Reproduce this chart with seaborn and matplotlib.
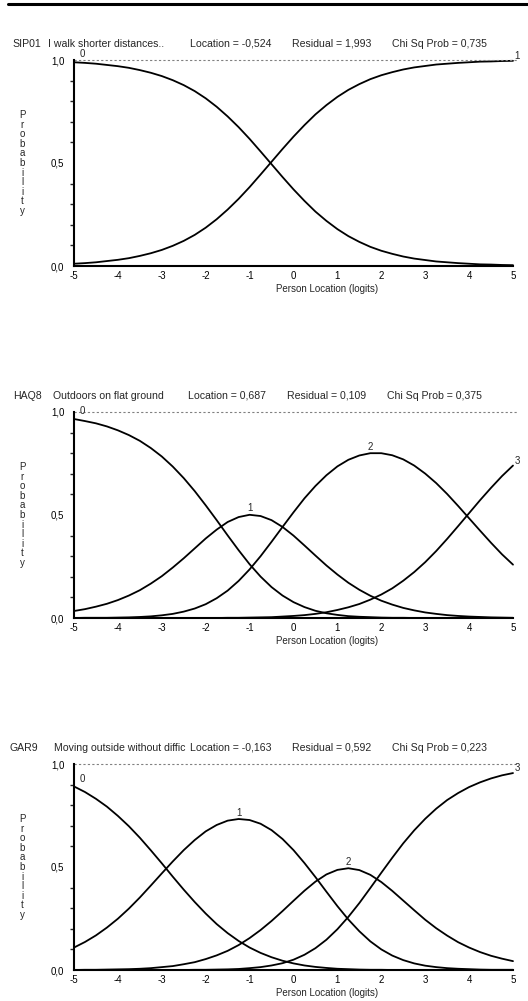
"""
Category probability curves (Rasch / partial credit) for three items,
stacked vertically in the style of a RUMM2030 item report.
"""

import pandas as pd
import matplotlib
matplotlib.use('Agg')
import matplotlib.pyplot as plt
from matplotlib.lines import Line2D
from matplotlib.ticker import MultipleLocator
import seaborn as sns


# Data (every quarter logit)
LOGITS = [-5.0, -4.75, -4.5, -4.25, -4.0, -3.75, -3.5, -3.25, -3.0, -2.75,
          -2.5, -2.25, -2.0, -1.75, -1.5, -1.25, -1.0, -0.75, -0.5, -0.25,
          0.0, 0.25, 0.5, 0.75, 1.0, 1.25, 1.5, 1.75, 2.0, 2.25,
          2.5, 2.75, 3.0, 3.25, 3.5, 3.75, 4.0, 4.25, 4.5, 4.75, 5.0]

SIP01_CAT0 = [.989, .986, .982, .976, .970, .962, .951, .938, .922, .902,
              .878, .849, .814, .773, .726, .674, .617, .556, .494, .432,
              .372, .316, .264, .219, .179, .145, .117, .093, .074, .059,
              .046, .036, .029, .022, .018, .014, .011, .008, .007, .005, .004]
SIP01_CAT1 = [.011, .014, .018, .024, .030, .038, .049, .062, .078, .098,
              .122, .151, .186, .227, .274, .326, .383, .444, .506, .568,
              .628, .684, .736, .781, .821, .855, .883, .907, .926, .941,
              .954, .964, .971, .978, .982, .986, .989, .992, .993, .995, .996]

HAQ8_CAT0 = [.966, .956, .945, .930, .911, .888, .860, .825, .784, .735,
             .679, .616, .547, .475, .401, .329, .261, .201, .150, .109,
             .077, .053, .035, .023, .015, .009, .006, .004, .002, .001,
             .001, .000, .000, .000, .000, .000, .000, .000, .000, .000, .000]
HAQ8_CAT1 = [.034, .043, .055, .069, .087, .109, .135, .167, .203, .245,
             .290, .338, .386, .429, .466, .490, .501, .495, .475, .442,
             .400, .352, .303, .255, .211, .171, .137, .108, .084, .065,
             .049, .037, .027, .020, .014, .010, .007, .005, .003, .002, .001]
HAQ8_CAT2 = [.000, .001, .001, .001, .002, .003, .005, .008, .013, .020,
             .031, .046, .067, .096, .133, .180, .236, .300, .370, .442,
             .513, .581, .641, .693, .736, .768, .789, .800, .800, .790,
             .770, .740, .701, .655, .602, .544, .484, .424, .365, .309, .259]
HAQ8_CAT3 = [.000, .000, .000, .000, .000, .000, .000, .000, .000, .000,
             .000, .000, .000, .000, .001, .001, .002, .003, .004, .007,
             .010, .014, .020, .028, .039, .052, .068, .089, .114, .144,
             .181, .223, .271, .325, .384, .446, .509, .572, .632, .689, .740]

GAR9_CAT0 = [.891, .864, .831, .793, .748, .698, .642, .581, .518, .453,
             .390, .330, .274, .223, .179, .141, .109, .083, .062, .045,
             .032, .022, .015, .010, .006, .004, .002, .001, .001, .000,
             .000, .000, .000, .000, .000, .000, .000, .000, .000, .000, .000]
GAR9_CAT1 = [.109, .136, .168, .206, .249, .298, .352, .410, .469, .527,
             .582, .631, .673, .704, .725, .733, .728, .710, .679, .636,
             .582, .519, .451, .380, .310, .245, .188, .139, .100, .070,
             .048, .032, .021, .014, .009, .006, .004, .002, .001, .001, .001]
GAR9_CAT2 = [.000, .001, .001, .002, .003, .004, .006, .009, .014, .019,
             .028, .038, .053, .071, .093, .121, .155, .194, .238, .286,
             .336, .385, .429, .464, .486, .494, .485, .462, .427, .384,
             .337, .290, .244, .203, .167, .135, .109, .087, .069, .055, .043]
GAR9_CAT3 = [.000, .000, .000, .000, .000, .000, .000, .000, .000, .000,
             .000, .001, .001, .002, .003, .005, .009, .014, .022, .033,
             .050, .074, .106, .147, .198, .258, .325, .398, .472, .545,
             .615, .678, .734, .783, .825, .859, .888, .911, .930, .945, .956]

ITEM_CODES = ['SIP01', 'HAQ8', 'GAR9']
ITEM_TEXTS = ['I walk shorter distances..', 'Outdoors on flat ground',
              'Moving outside without diffic']
LOCATIONS = ['-0,524', '0,687', '-0,163']
RESIDUALS = ['1,993', '0,109', '0,592']
CHI_PROBS = ['0,735', '0,375', '0,223']
CURVES = [
    [SIP01_CAT0, SIP01_CAT1],
    [HAQ8_CAT0, HAQ8_CAT1, HAQ8_CAT2, HAQ8_CAT3],
    [GAR9_CAT0, GAR9_CAT1, GAR9_CAT2, GAR9_CAT3],
]

X_TICKS = [-5, -4, -3, -2, -1, 0, 1, 2, 3, 4, 5]
Y_TICKS = [0.0, 0.5, 1.0]
Y_TICK_LABELS = ['0,0', '0,5', '1,0']

# Layout (pixels of a 528x1001 canvas)
W, H = 528, 1001
AX_LEFT, AX_RIGHT = 74, 513
AX_TOPS = [60, 412, 764]
AX_HEIGHT = 206
# header pieces: code, text, location, residual, chi-sq (x in px)
HEADER_X = [
    [12, 48, 190, 292, 392],
    [13, 53, 188, 287, 387],
    [10, 54, 190, 292, 392],
]
FONT = ['Liberation Sans', 'DejaVu Sans']


def _fx(px):
    return px / W


def _fy(py):
    return 1 - py / H


def _long_frame(curves):
    rows = []
    for cat, vals in enumerate(curves):
        for x, p in zip(LOGITS, vals):
            rows.append({'logit': x, 'prob': p, 'category': str(cat)})
    return pd.DataFrame(rows)


sns.set_theme(style='white')
plt.rcParams['font.family'] = FONT

fig = plt.figure(figsize=(W / 100, H / 100), dpi=100)

# thick rule across the top of the page
fig.add_artist(Line2D([_fx(8), 1.0], [_fy(4), _fy(4)], color='black', lw=2.2))

for i, curves in enumerate(CURVES):
    top = AX_TOPS[i]
    ax = fig.add_axes([_fx(AX_LEFT), _fy(top + AX_HEIGHT),
                       (AX_RIGHT - AX_LEFT) / W, AX_HEIGHT / H])
    df = _long_frame(curves)
    n_cat = len(curves)

    sns.lineplot(data=df, x='logit', y='prob', hue='category',
                 palette=['black'] * n_cat, estimator=None, legend=False,
                 lw=1.3, ax=ax, clip_on=False)

    # dotted ceiling at p = 1
    ax.plot([-5, 5.1], [1, 1], color='#808080', lw=0.8, ls=(0, (2, 2)),
            clip_on=False)

    # category labels: 0 at the start, last at the end, middle at peaks
    for cat, vals in enumerate(curves):
        if cat == 0:
            ax.annotate('0', (LOGITS[0], vals[0]), xytext=(4, 2),
                        textcoords='offset points', fontsize=7,
                        ha='left', va='bottom', annotation_clip=False)
        elif cat == n_cat - 1:
            ax.annotate(str(cat), (LOGITS[-1], vals[-1]), xytext=(1, 0),
                        textcoords='offset points', fontsize=7,
                        ha='left', va='bottom', annotation_clip=False)
        else:
            k = max(range(len(vals)), key=lambda j: vals[j])
            ax.annotate(str(cat), (LOGITS[k], vals[k]), xytext=(0, 1),
                        textcoords='offset points', fontsize=7,
                        ha='center', va='bottom', annotation_clip=False)

    ax.set_xlim(-5, 5)
    ax.set_ylim(0, 1)
    for side in ['top', 'right']:
        ax.spines[side].set_visible(False)
    for side in ['left', 'bottom']:
        ax.spines[side].set_linewidth(1.5)
        ax.spines[side].set_color('black')

    ax.set_xticks(X_TICKS)
    ax.set_xticklabels([str(t) for t in X_TICKS], fontsize=7)
    ax.set_yticks(Y_TICKS)
    ax.set_yticklabels(Y_TICK_LABELS, fontsize=7)
    ax.yaxis.set_minor_locator(MultipleLocator(0.1))
    ax.tick_params(axis='x', which='major', direction='inout', length=5,
                   width=1, pad=1, colors='black')
    ax.tick_params(axis='y', which='major', direction='out', length=6,
                   width=1, pad=1, colors='black')
    ax.tick_params(axis='y', which='minor', direction='out', length=3,
                   width=1, left=True)
    ax.set_xlabel('')
    ax.set_ylabel('')

    ax.text((327 - AX_LEFT) / (AX_RIGHT - AX_LEFT), -23 / AX_HEIGHT,
            'Person Location (logits)', transform=ax.transAxes,
            fontsize=7, ha='center', va='center')
    ax.text((22 - AX_LEFT) / (AX_RIGHT - AX_LEFT), 0.5,
            '\n'.join('Probability'), transform=ax.transAxes,
            fontsize=7, ha='center', va='center', linespacing=0.95)

    # item header line
    ty = _fy(top - 16)
    hx = HEADER_X[i]
    pieces = [ITEM_CODES[i], ITEM_TEXTS[i], f'Location = {LOCATIONS[i]}',
              f'Residual = {RESIDUALS[i]}', f'Chi Sq Prob = {CHI_PROBS[i]}']
    for px, txt in zip(hx, pieces):
        fig.text(_fx(px), ty, txt, fontsize=7.6, va='center')

fig.savefig('out.png', dpi=100, facecolor='white')
plt.close(fig)
